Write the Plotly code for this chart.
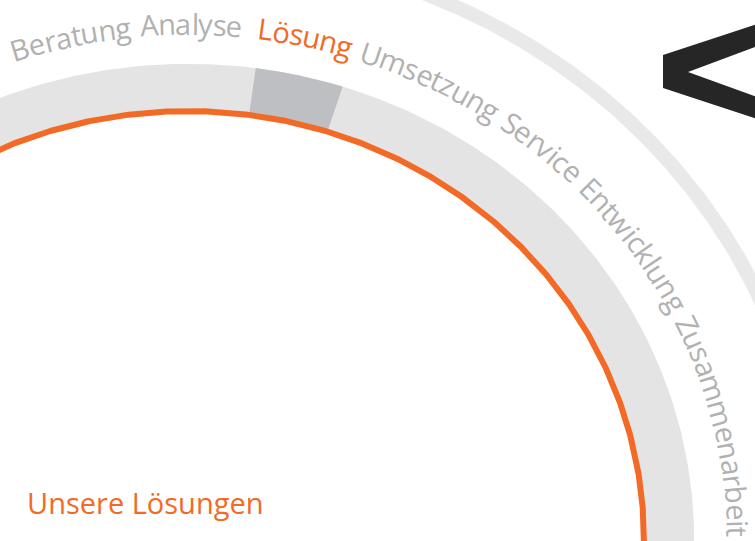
import numpy as np
import plotly.graph_objects as go

W, H = 755, 541

# ---- data ----
words = ["Beratung", "Analyse", "Lösung", "Umsetzung", "Service", "Entwicklung", "Zusammenarbeit"]
active_word = "Lösung"
title_text = "Unsere Lösungen"

# ---- layout constants (pixel space, y downward) ----
CX, CY = 188, 540
AX, BY = 456, 429            # semi axes of the orange ring
BAND = (1.0, 1.11)           # normalized radii of grey band
HIGHLIGHT = (72.2, 82.3)     # parametric angles of highlighted segment
OUTER_ARC = (1.359, 1.391)
TEXT_AX, TEXT_BY = 540, 506  # baseline ellipse of arc text
WORD_START = [108.8, 95.0, 82.6, 71.6, 54.8, 43.8, 25.5]   # where each word begins
FS = 29          # glyph size
FS_ADV = 28.0    # advance scale inside a word

C_ORANGE = "#F26A25"
C_BAND = "#E4E4E4"
C_HIGH = "#BEBFC3"
C_OUTER = "#E9E9E9"
C_TEXT = "#B1B1B1"
C_DARK = "#262626"
FONT = "Open Sans"

# approximate Open Sans advance widths (units / 2048)
ADV = {' ': 532, 'A': 1296, 'B': 1327, 'E': 1126, 'L': 1028, 'S': 1120, 'U': 1466, 'Z': 1124,
       'a': 1139, 'b': 1255, 'c': 975, 'e': 1149, 'g': 1122, 'i': 518, 'k': 1075, 'l': 518,
       'm': 1905, 'n': 1257, 'ö': 1237, 'o': 1237, 'r': 836, 's': 977, 't': 723, 'u': 1257,
       'v': 1026, 'w': 1593, 'y': 1028, 'z': 977}


def ell(r, deg, ax=AX, by=BY):
    t = np.radians(deg)
    return CX + ax * r * np.cos(t), CY - by * r * np.sin(t)


fig = go.Figure()


def band_poly(r0, r1, a0, a1, color):
    th = np.linspace(a0, a1, 400)
    xo, yo = ell(r1, th)
    xi, yi = ell(r0, th[::-1])
    fig.add_trace(go.Scatter(x=np.r_[xo, xi], y=np.r_[yo, yi], fill="toself", mode="lines",
                             line=dict(width=0), fillcolor=color, hoverinfo="skip"))


band_poly(BAND[0], BAND[1], -40, 220, C_BAND)
band_poly(BAND[0], BAND[1], HIGHLIGHT[0], HIGHLIGHT[1], C_HIGH)
th = np.linspace(-40, 220, 1200)
ox, oy = ell(1.0, th)
fig.add_trace(go.Scatter(x=ox, y=oy, mode="lines", line=dict(color=C_ORANGE, width=6), hoverinfo="skip"))
band_poly(OUTER_ARC[0], OUTER_ARC[1], -40, 160, C_OUTER)

# chevron "<"
chev_x = [760, 663, 663, 760, 760, 688, 760]
chev_y = [23, 55, 88, 120, 98, 72, 45]
fig.add_trace(go.Scatter(x=chev_x, y=chev_y, fill="toself", mode="lines", line=dict(width=0),
                         fillcolor=C_DARK, hoverinfo="skip"))

# ---- text along arc ----
tt = np.linspace(130, -80, 30000)
bx, by = ell(1.0, tt, TEXT_AX, TEXT_BY)
seg = np.hypot(np.diff(bx), np.diff(by))
s = np.r_[0, np.cumsum(seg)]

annotations = []
for w, a0 in zip(words, WORD_START):
    col = C_ORANGE if w == active_word else C_TEXT
    pos = np.interp(-a0, -tt, s)
    for ch in w:
        adv = ADV.get(ch, 1100) / 2048 * FS_ADV
        sc = pos + adv / 2
        t = np.interp(sc, s, tt)
        tr = np.radians(t)
        px, py = ell(1.0, t, TEXT_AX, TEXT_BY)
        nx, ny = TEXT_BY * np.cos(tr), -TEXT_AX * np.sin(tr)
        nn = np.hypot(nx, ny)
        off = 0.36 * FS
        cxp, cyp = px + nx / nn * off, py + ny / nn * off
        ang = np.degrees(np.arctan2(TEXT_BY * np.cos(tr), TEXT_AX * np.sin(tr)))
        annotations.append(dict(x=cxp, y=cyp, text=ch, showarrow=False, textangle=ang,
                                xanchor="center", yanchor="middle", xref="x", yref="y",
                                font=dict(family=FONT, size=FS, color=col)))
        pos += adv

annotations.append(dict(x=25, y=513 - 0.36 * FS, text=title_text, showarrow=False,
                        xanchor="left", yanchor="middle", xref="x", yref="y",
                        font=dict(family=FONT, size=FS, color=C_ORANGE)))

fig.update_layout(
    width=W, height=H, margin=dict(l=0, r=0, t=0, b=0),
    paper_bgcolor="white", plot_bgcolor="white", showlegend=False,
    xaxis=dict(range=[0, W], visible=False, fixedrange=True),
    yaxis=dict(range=[H, 0], visible=False, fixedrange=True),
    annotations=annotations,
)
fig.write_html("out.html", config={"displayModeBar": False},
               post_script="document.body.style.margin='0';document.body.style.overflow='hidden';")
